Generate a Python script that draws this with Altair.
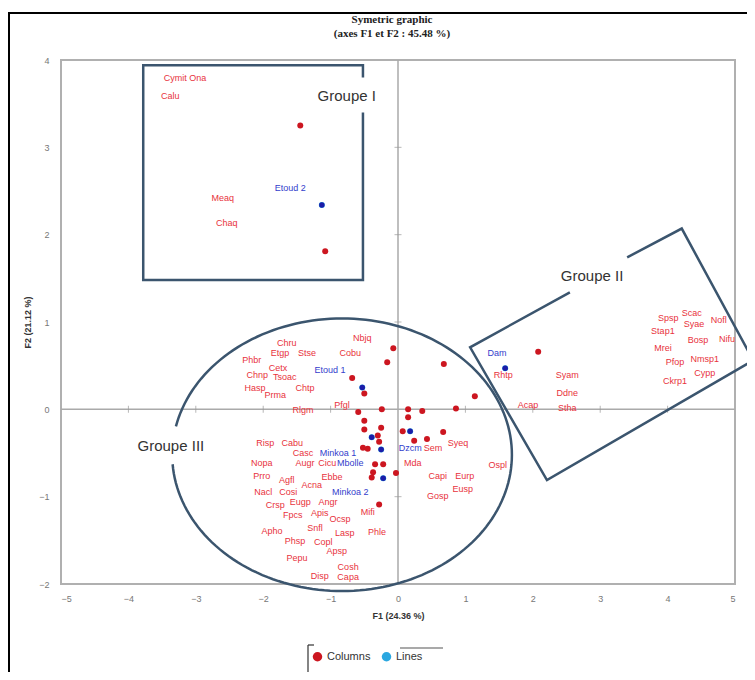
import altair as alt
import pandas as pd
import numpy as np

# ---------------- data ----------------
# "Columns" points (red)
col_x = [-1.45, -1.08, 2.08, -0.07, -0.16, 0.68, -0.68, -0.50, 1.14, -0.59, -0.24, 0.15, 0.36, 0.86, 0.15,
         -0.50, -0.50, -0.25, 0.07, 0.67, -0.30, -0.28, -0.52, -0.45, 0.24, 0.43, -0.34, -0.22, -0.37, -0.39,
         -0.03, -0.28]
col_y = [3.25, 1.81, 0.66, 0.70, 0.54, 0.52, 0.36, 0.18, 0.15, -0.03, 0.00, 0.00, -0.02, 0.01, -0.09,
         -0.13, -0.23, -0.21, -0.25, -0.26, -0.30, -0.37, -0.44, -0.45, -0.36, -0.34, -0.63, -0.63, -0.72, -0.78,
         -0.73, -1.09]

# "Lines" points (blue)
lin_x = [-1.13, 1.59, -0.53, -0.39, 0.18, -0.25, -0.22]
lin_y = [2.34, 0.47, 0.25, -0.32, -0.25, -0.46, -0.79]

# red labels
red_names = ["Cymit Ona", "Calu", "Meaq", "Chaq", "Rhtp", "Acap", "Syam", "Ddne", "Stha",
             "Spsp", "Scac", "Syae", "Nofl", "Stap1", "Bosp", "Nifu", "Mrei", "Pfop", "Nmsp1", "Cypp", "Ckrp1",
             "Nbjq", "Chru", "Etgp", "Stse", "Cobu", "Phbr", "Cetx", "Chnp", "Tsoac", "Hasp", "Chtp", "Prma",
             "Rlgm", "Pfgl", "Risp", "Cabu", "Casc", "Nopa", "Augr", "Cicu", "Prro", "Agfl", "Acna", "Ebbe",
             "Nacl", "Cosi", "Crsp", "Eugp", "Angr", "Fpcs", "Apis", "Ocsp", "Mifi", "Apho", "Snfl", "Lasp",
             "Phle", "Phsp", "Copl", "Apsp", "Pepu", "Cosh", "Disp", "Capa",
             "Sem", "Syeq", "Mda", "Ospl", "Capi", "Eurp", "Eusp", "Gosp"]
red_lx = [-3.16, -3.38, -2.60, -2.54, 1.56, 1.93, 2.51, 2.51, 2.51,
          4.01, 4.36, 4.39, 4.76, 3.93, 4.45, 4.88, 3.93, 4.11, 4.55, 4.55, 4.11,
          -0.53, -1.65, -1.75, -1.35, -0.71, -2.17, -1.78, -2.09, -1.68, -2.12, -1.38, -1.82,
          -1.41, -0.83, -1.97, -1.57, -1.41, -2.02, -1.38, -1.05, -2.02, -1.65, -1.28, -0.98,
          -2.00, -1.63, -1.82, -1.45, -1.04, -1.56, -1.16, -0.86, -0.45, -1.87, -1.23, -0.79,
          -0.31, -1.53, -1.11, -0.91, -1.50, -0.74, -1.16, -0.74,
          0.52, 0.89, 0.22, 1.48, 0.59, 0.99, 0.96, 0.59]
red_ly = [3.79, 3.59, 2.42, 2.13, 0.39, 0.05, 0.39, 0.19, 0.01,
          1.05, 1.10, 0.98, 1.02, 0.90, 0.79, 0.81, 0.70, 0.54, 0.58, 0.42, 0.33,
          0.82, 0.76, 0.65, 0.65, 0.65, 0.56, 0.47, 0.39, 0.37, 0.25, 0.25, 0.16,
          -0.01, 0.05, -0.39, -0.39, -0.50, -0.61, -0.62, -0.62, -0.76, -0.81, -0.87, -0.78,
          -0.95, -0.95, -1.10, -1.06, -1.06, -1.21, -1.19, -1.25, -1.18, -1.39, -1.36, -1.42,
          -1.41, -1.51, -1.52, -1.62, -1.70, -1.81, -1.91, -1.92,
          -0.44, -0.39, -0.62, -0.64, -0.76, -0.76, -0.91, -0.99]

# blue labels
blue_names = ["Etoud 2", "Dam", "Etoud 1", "Minkoa 1", "Mbolle", "Minkoa 2", "Dzcm"]
blue_lx = [-1.60, 1.47, -1.01, -0.89, -0.71, -0.71, 0.18]
blue_ly = [2.53, 0.65, 0.45, -0.50, -0.62, -0.95, -0.44]

# group annotations
group_names = ["Groupe I", "Groupe II", "Groupe III"]
group_x = [-0.76, 2.88, -3.37]
group_y = [3.59, 1.53, -0.42]

# group I rectangle outline (with gap for label)
g1_x = [-0.52, -0.52, -3.78, -3.78, -0.52, -0.52]
g1_y = [3.40, 1.48, 1.48, 3.94, 3.94, 3.80]
# group II rotated rectangle outline (with gap for label)
g2_x = [3.40, 4.21, 5.27, 2.21, 1.07, 2.55]
g2_y = [1.74, 2.07, 0.56, -0.81, 0.71, 1.34]
# group III ellipse: centre, radii, arc span in degrees (gap near its label)
g3_center = [-0.83, -0.52]
g3_radii = [2.52, 1.56]
g3_arc = [184, 529]

x_ticks = [-5, -4, -3, -2, -1, 0, 1, 2, 3, 4, 5]
y_ticks = [-2, -1, 0, 1, 2, 3, 4]

title_lines = ["Symetric graphic", "(axes F1 et F2 : 45.48 %)"]

# ---------------- frames ----------------
RED_PT = "#cc1620"
BLUE_PT = "#1c1ca8"
RED_TXT = "#e8323c"
BLUE_TXT = "#3340cc"
SHAPE = "#3b556e"
LAB_SIZE = 9

pts = pd.DataFrame({
    "x": col_x + lin_x,
    "y": col_y + lin_y,
    "type": ["Columns"] * len(col_x) + ["Lines"] * len(lin_x),
})
red_lab = pd.DataFrame({"x": red_lx, "y": red_ly, "t": red_names})
blue_lab = pd.DataFrame({"x": blue_lx, "y": blue_ly, "t": blue_names})
grp = pd.DataFrame({"x": group_x, "y": group_y, "t": group_names})

ang = np.deg2rad(np.arange(g3_arc[0], g3_arc[1] + 1, 2))
ell_x = list(g3_center[0] + g3_radii[0] * np.cos(ang))
ell_y = list(g3_center[1] + g3_radii[1] * np.sin(ang))
shapes = pd.DataFrame({
    "x": g1_x + g2_x + ell_x,
    "y": g1_y + g2_y + ell_y,
    "shape": ["g1"] * len(g1_x) + ["g2"] * len(g2_x) + ["g3"] * len(ell_x),
    "order": list(range(len(g1_x))) + list(range(len(g2_x))) + list(range(len(ell_x))),
})

xt = pd.DataFrame({"x": [v for v in x_ticks if v not in (0, -5, 5)], "y": 0})
yt = pd.DataFrame({"y": [v for v in y_ticks if v not in (0, -2, 4)], "x": 0})

X = alt.X("x:Q", scale=alt.Scale(domain=[-5, 5], nice=False, zero=False),
          axis=alt.Axis(values=x_ticks, title="F1 (24.36 %)", labelPadding=10, titlePadding=8))
Y = alt.Y("y:Q", scale=alt.Scale(domain=[-2, 4], nice=False, zero=False),
          axis=alt.Axis(values=y_ticks, title="F2 (21.12 %)", labelPadding=12, titlePadding=6))

zero_x = alt.Chart(pd.DataFrame({"x": [0]})).mark_rule(color="#aaaaaa", strokeWidth=1.5).encode(x=X)
zero_y = alt.Chart(pd.DataFrame({"y": [0]})).mark_rule(color="#aaaaaa", strokeWidth=1.5).encode(y=Y)
tick_x = alt.Chart(xt).mark_tick(orient="vertical", size=7, thickness=1, color="#999999").encode(x=X, y=Y)
tick_y = alt.Chart(yt).mark_tick(orient="horizontal", size=7, thickness=1, color="#999999").encode(x=X, y=Y)

outline = alt.Chart(shapes).mark_line(color=SHAPE, strokeWidth=2.5, clip=False).encode(
    x=X, y=Y, detail="shape:N", order="order:Q")

points = alt.Chart(pts).mark_circle(size=36, opacity=1).encode(
    x=X, y=Y,
    color=alt.Color("type:N", scale=alt.Scale(domain=["Columns", "Lines"], range=[RED_PT, "#2aa7e0"]),
                    legend=alt.Legend(orient="none", legendX=251, legendY=591, direction="horizontal",
                                      title=None, labelFontSize=11, labelColor="#333",
                                      symbolType="circle", symbolSize=90, columnPadding=10,
                                      labelFont="Liberation Sans")))
blue_pts = alt.Chart(pd.DataFrame({"x": lin_x, "y": lin_y})).mark_circle(
    size=30, opacity=1, color=BLUE_PT).encode(x=X, y=Y)

red_text = alt.Chart(red_lab).mark_text(fontSize=LAB_SIZE, font="Liberation Sans", color=RED_TXT).encode(
    x=X, y=Y, text="t:N")
blue_text = alt.Chart(blue_lab).mark_text(fontSize=LAB_SIZE, font="Liberation Sans", color=BLUE_TXT).encode(
    x=X, y=Y, text="t:N")
grp_text = alt.Chart(grp).mark_text(fontSize=15, font="Liberation Sans", color="#333333").encode(
    x=X, y=Y, text="t:N")

title1 = alt.Chart(pd.DataFrame({"t": [title_lines[0]]})).mark_text(
    font="Liberation Serif", fontSize=11, fontWeight="bold", color="#222", clip=False
).encode(text="t:N", x=alt.value(331), y=alt.value(-40))
title2 = alt.Chart(pd.DataFrame({"t": [title_lines[1]]})).mark_text(
    font="Liberation Serif", fontSize=11, fontWeight="bold", color="#222", clip=False
).encode(text="t:N", x=alt.value(331), y=alt.value(-26))

one = pd.DataFrame({"a": [0]})
frame_left = alt.Chart(one).mark_rule(color="black", strokeWidth=2, clip=False).encode(
    x=alt.value(-52), y=alt.value(-48), y2=alt.value(620))
frame_top = alt.Chart(one).mark_rule(color="black", strokeWidth=2, clip=False).encode(
    x=alt.value(-53), x2=alt.value(700), y=alt.value(-47))

# legend bracket decoration
br_v = alt.Chart(one).mark_rule(color="#333", strokeWidth=1.2, clip=False).encode(
    x=alt.value(247), y=alt.value(585), y2=alt.value(617))
br_t = alt.Chart(one).mark_rule(color="#333", strokeWidth=1.2, clip=False).encode(
    x=alt.value(247), x2=alt.value(253), y=alt.value(585))
br_b = alt.Chart(one).mark_rule(color="#333", strokeWidth=1.2, clip=False).encode(
    x=alt.value(247), x2=alt.value(253), y=alt.value(617))
br_l = alt.Chart(one).mark_rule(color="#555", strokeWidth=1.2, clip=False).encode(
    x=alt.value(339), x2=alt.value(382), y=alt.value(588))

chart = alt.layer(
    zero_x, zero_y, tick_x, tick_y, outline, points, blue_pts, red_text, blue_text, grp_text,
    title1, title2, frame_left, frame_top, br_v, br_t, br_b, br_l
).properties(
    width=674, height=524,
    autosize=alt.AutoSizeParams(type="none"),
    padding={"left": 53, "top": 52, "right": 12, "bottom": 88},
).configure_view(
    stroke="#b0b0b0", strokeWidth=2
).configure_axis(
    grid=False, domain=False, ticks=False,
    labelFont="Liberation Sans", labelFontSize=9, labelColor="#777777",
    titleFont="Liberation Sans", titleFontSize=9, titleFontWeight="bold", titleColor="#333333"
)

chart.save("out.html", embed_options={"renderer": "svg", "actions": False})
